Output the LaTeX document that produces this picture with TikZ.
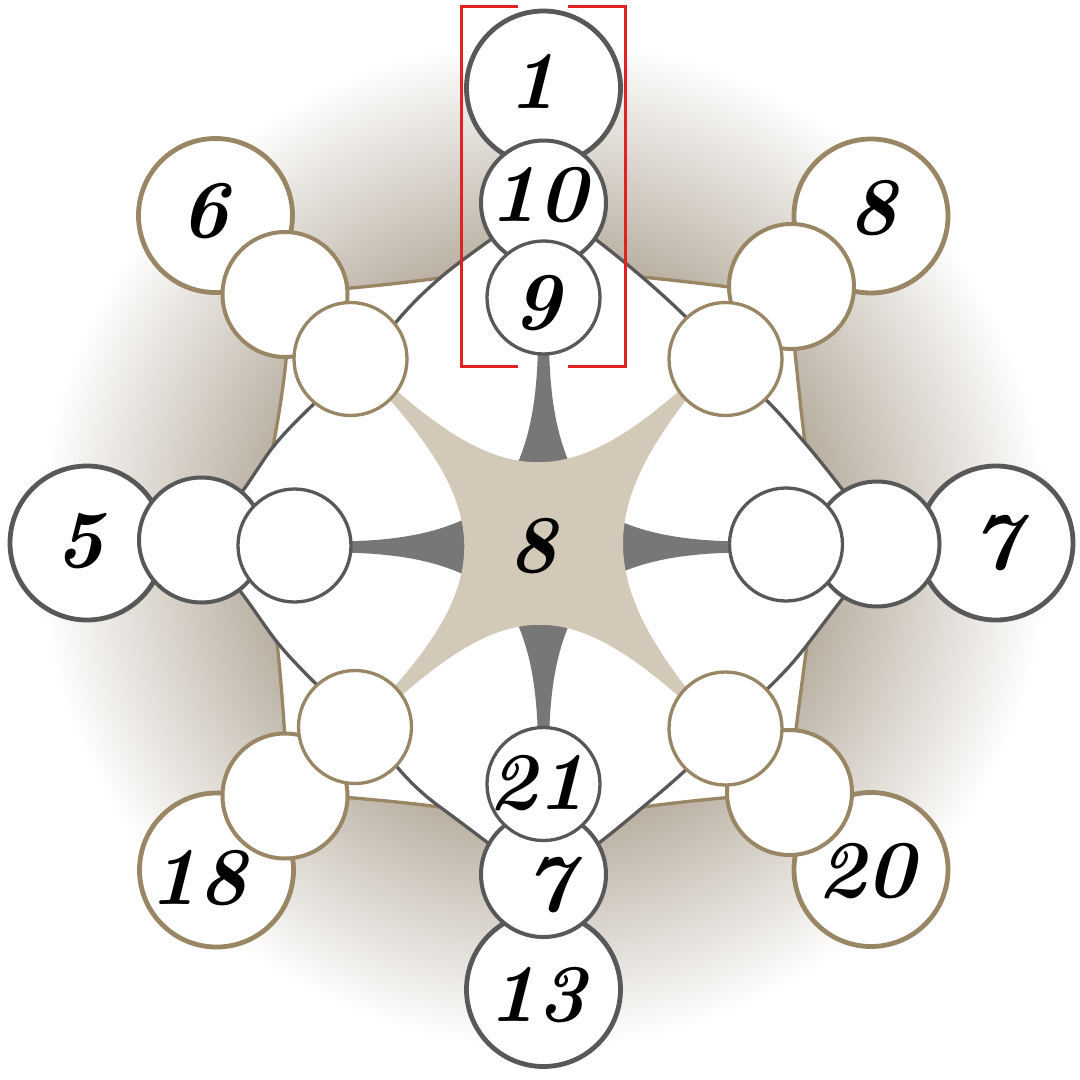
\documentclass[tikz,border=0pt]{standalone}
\usepackage{fontspec}
\definecolor{bgdark}{RGB}{180,170,155}
\definecolor{axisgray}{RGB}{88,88,88}
\definecolor{diagbrown}{RGB}{152,134,100}
\definecolor{starbeige}{RGB}{211,201,185}
\definecolor{spikegray}{RGB}{119,119,119}
\definecolor{framered}{RGB}{226,34,34}
\pgfdeclareradialshading{bgshade}{\pgfpoint{0bp}{0bp}}{color(0bp)=(bgdark); color(12.3bp)=(bgdark); color(23.4bp)=(white); color(25bp)=(white); color(50bp)=(white)}
\tikzset{
  axisring/.style={circle, draw=axisgray, fill=white, inner sep=0pt},
  diagring/.style={circle, draw=diagbrown, fill=white, inner sep=0pt},
  bigring/.style={minimum size=154pt, line width=4.8pt},
  midring/.style={minimum size=125pt, line width=4pt},
  smallring/.style={minimum size=113pt, line width=3.3pt},
  numlabel/.style={inner sep=0pt, font=\fontsize{82}{86}\selectfont\bfseries\itshape},
  grayline/.style={draw=axisgray, line width=3.3pt},
  brownline/.style={draw=diagbrown, line width=3.3pt},
  frameline/.style={draw=framered, line width=3pt},
}
\begin{document}
\begin{tikzpicture}[x=1pt,y=-1pt]
\useasboundingbox (0,0) rectangle (1080,1080);
\fill[white] (0,0) rectangle (1080,1080);
\shade[shading=bgshade] (543.5,543) circle[radius=540];

% named points of the connectors
\coordinate (sTL) at (497,235); \coordinate (gTL) at (440,278); \coordinate (eTL) at (392,327); \coordinate (bTL) at (340,289);
\coordinate (sTR) at (590,235); \coordinate (gTR) at (642,277); \coordinate (eTR) at (693,324); \coordinate (bTR) at (736,288);
\coordinate (sLT) at (236,500); \coordinate (gLT) at (273,447); \coordinate (eLT) at (318,400); \coordinate (bLT) at (287,350);
\coordinate (sLB) at (236,586); \coordinate (gLB) at (277,642); \coordinate (eLB) at (320,688); \coordinate (bLB) at (285,740);
\coordinate (sBL) at (492,846); \coordinate (gBL) at (440,807); \coordinate (eBL) at (393,762); \coordinate (bBL) at (342,797);
\coordinate (sBR) at (595,846); \coordinate (gBR) at (643,807); \coordinate (eBR) at (690,766); \coordinate (bBR) at (733,797);
\coordinate (sRB) at (849,590); \coordinate (gRB) at (807,645); \coordinate (eRB) at (762,694); \coordinate (bRB) at (795,737);
\coordinate (sRT) at (849,498); \coordinate (gRT) at (805,443); \coordinate (eRT) at (762,396); \coordinate (bRT) at (794,343);
% circle centres
\coordinate (pc10) at (543.5,203); \coordinate (pc7b) at (543.5,874.5);
\coordinate (pcl2) at (201.5,540); \coordinate (pcr2) at (877,544);
\coordinate (ptl2) at (285,294.5); \coordinate (ptr2) at (791.5,286.5);
\coordinate (pbl2) at (285,796); \coordinate (pbr2) at (789.5,792.5);

% inner white region
\fill[white] (sTL) .. controls (475,251) and (455,265) .. (gTL)
  .. controls (410,282) and (375,286) .. (bTL) -- (ptl2) -- (bLT)
  .. controls (284,385) and (278,420) .. (gLT)
  .. controls (262,461) and (248,485) .. (sLT) -- (pcl2) -- (sLB)
  .. controls (248,600) and (265,627) .. (gLB)
  .. controls (280,670) and (283,705) .. (bLB) -- (pbl2) -- (bBL)
  .. controls (378,800) and (410,803) .. (gBL)
  .. controls (455,818) and (475,833) .. (sBL) -- (pc7b) -- (sBR)
  .. controls (612,833) and (630,818) .. (gBR)
  .. controls (672,803) and (700,800) .. (bBR) -- (pbr2) -- (bRB)
  .. controls (799,705) and (803,675) .. (gRB)
  .. controls (820,628) and (836,607) .. (sRB) -- (pcr2) -- (sRT)
  .. controls (836,481) and (818,458) .. (gRT)
  .. controls (801,412) and (798,380) .. (bRT) -- (ptr2) -- (bTR)
  .. controls (700,283) and (670,280) .. (gTR)
  .. controls (628,265) and (611,251) .. (sTR) -- (pc10) -- cycle;

% dark spikes
\fill[spikegray] (538,345) .. controls (537,400) and (530,440) .. (512,475) -- (575,475) .. controls (557,440) and (550,400) .. (549,345) -- cycle;
\fill[spikegray] (538,742) .. controls (537,687) and (530,647) .. (512,612) -- (575,612) .. controls (557,647) and (550,687) .. (549,742) -- cycle;
\fill[spikegray] (342,541.5) .. controls (397,540.5) and (437,533.5) .. (472,515.5) -- (472,578.5) .. controls (437,560.5) and (397,553.5) .. (342,552.5) -- cycle;
\fill[spikegray] (738,541.5) .. controls (683,540.5) and (643,533.5) .. (608,515.5) -- (608,578.5) .. controls (643,560.5) and (683,553.5) .. (738,552.5) -- cycle;

% central star
\fill[starbeige] (372,378) -- (397,391) .. controls (506,486) and (570,486) .. (679,391)
  -- (704,378) -- (686,400) .. controls (602,509) and (602,578.5) .. (686,687.5)
  -- (704,709) -- (679,696.5) .. controls (570,601.5) and (510.5,600.5) .. (401.5,695.5)
  -- (376,708) -- (394.5,686.5) .. controls (490.5,578) and (486,509) .. (390,400) -- cycle;

% brown connectors
\draw[brownline] (bTL) .. controls (375,286) and (410,282) .. (gTL);
\draw[brownline] (bTR) .. controls (700,283) and (670,280) .. (gTR);
\draw[brownline] (bLT) .. controls (284,385) and (278,420) .. (gLT);
\draw[brownline] (bLB) .. controls (283,705) and (280,670) .. (gLB);
\draw[brownline] (bBL) .. controls (378,800) and (410,803) .. (gBL);
\draw[brownline] (bBR) .. controls (700,800) and (672,803) .. (gBR);
\draw[brownline] (bRB) .. controls (799,705) and (803,675) .. (gRB);
\draw[brownline] (bRT) .. controls (798,380) and (801,412) .. (gRT);

% gray connectors
\draw[grayline] (sTL) .. controls (475,251) and (455,265) .. (gTL) .. controls (425,291) and (410,305) .. (eTL);
\draw[grayline] (sTR) .. controls (611,251) and (628,265) .. (gTR) .. controls (656,289) and (672,303) .. (eTR);
\draw[grayline] (sLT) .. controls (248,485) and (262,461) .. (gLT) .. controls (284,433) and (300,417) .. (eLT);
\draw[grayline] (sLB) .. controls (248,600) and (265,627) .. (gLB) .. controls (289,657) and (303,671) .. (eLB);
\draw[grayline] (sBL) .. controls (475,833) and (455,818) .. (gBL) .. controls (425,796) and (410,783) .. (eBL);
\draw[grayline] (sBR) .. controls (612,833) and (630,818) .. (gBR) .. controls (656,796) and (672,783) .. (eBR);
\draw[grayline] (sRB) .. controls (836,607) and (820,628) .. (gRB) .. controls (794,662) and (782,675) .. (eRB);
\draw[grayline] (sRT) .. controls (836,481) and (818,458) .. (gRT) .. controls (792,428) and (780,413) .. (eRT);

% axis chains
\node[axisring,bigring] (c1) at (543.5,88) {};
\node[axisring,midring] (c10) at (pc10) {};
\node[axisring,smallring] (c9) at (543.5,297.5) {};
\node[axisring,bigring] (c13) at (543.5,989.5) {};
\node[axisring,midring] (c7b) at (pc7b) {};
\node[axisring,smallring] (c21) at (543.5,784) {};
\node[axisring,bigring] (c5) at (87,543) {};
\node[axisring,midring] (cl2) at (pcl2) {};
\node[axisring,smallring] (cl3) at (294.5,545.5) {};
\node[axisring,bigring] (c7r) at (996,543) {};
\node[axisring,midring] (cr2) at (pcr2) {};
\node[axisring,smallring] (cr3) at (786,544.5) {};
% diagonal chains
\node[diagring,bigring] (c6) at (215.5,215.5) {};
\node[diagring,midring] (tl2) at (ptl2) {};
\node[diagring,smallring] (tl3) at (350.5,359) {};
\node[diagring,bigring] (c8) at (871,216) {};
\node[diagring,midring] (tr2) at (ptr2) {};
\node[diagring,smallring] (tr3) at (725.5,359) {};
\node[diagring,bigring] (c18) at (216.5,870) {};
\node[diagring,midring] (bl2) at (pbl2) {};
\node[diagring,smallring] (bl3) at (355,727) {};
\node[diagring,bigring] (c20) at (871,869.5) {};
\node[diagring,midring] (br2) at (pbr2) {};
\node[diagring,smallring] (br3) at (725.5,728.5) {};

% numbers
\node[numlabel] (t1) at (533,81) {1};
\node[numlabel] (t10) at (538,195) {10};
\node[numlabel] (t9) at (537,303) {9};
\node[numlabel] (t6) at (205,211) {6};
\node[numlabel] (t8a) at (873,208) {8};
\node[numlabel] (t5) at (80,541) {5};
\node[numlabel] (t7a) at (996,543) {7};
\node[numlabel] (t18) at (198,878) {18};
\node[numlabel] (t20) at (866,871) {20};
\node[numlabel] (t13) at (537,995) {13};
\node[numlabel] (t21) at (537,783) {21};
\node[numlabel] (t7b) at (549,885) {7};
\node[numlabel] (t8b) at (533,546) {8};

% red bracket frame
\coordinate (fA) at (518,6.7); \coordinate (fB) at (461.7,6.7); \coordinate (fC) at (461.7,366.7); \coordinate (fD) at (518,366.7);
\coordinate (fE) at (568,6.7); \coordinate (fF) at (625,6.7); \coordinate (fG) at (625,366.7); \coordinate (fH) at (568,366.7);
\draw[frameline] (fA) -- (fB) -- (fC) -- (fD);
\draw[frameline] (fE) -- (fF) -- (fG) -- (fH);
\end{tikzpicture}
\end{document}
